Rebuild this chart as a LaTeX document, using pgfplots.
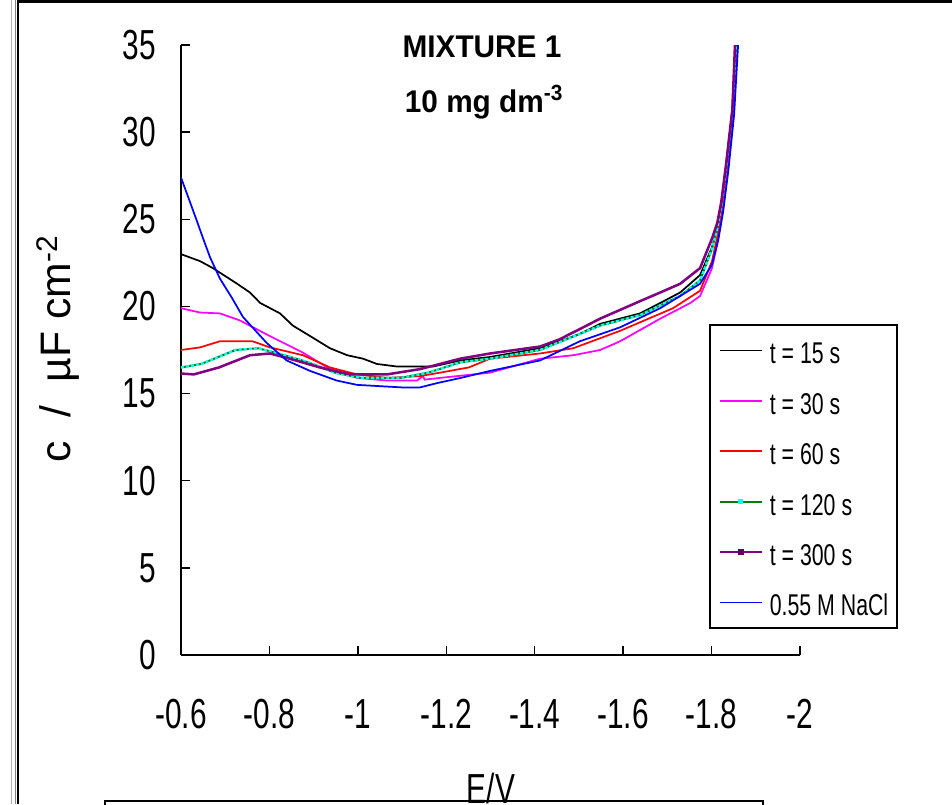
\documentclass[border=0pt]{standalone}
\usepackage{fontspec}
\setmainfont{Liberation Sans}
\newfontfamily\narrowfont{Liberation Sans}[FakeStretch=0.71]
\newfontfamily\titlefont{Liberation Sans}[FakeStretch=0.95]
\usepackage{pgfplots}
\pgfplotsset{compat=1.18}
\definecolor{cmag}{RGB}{255,0,255}
\definecolor{cred}{RGB}{255,0,0}
\definecolor{cgreen}{RGB}{0,128,0}
\definecolor{ccyan}{RGB}{0,255,255}
\definecolor{cpurple}{RGB}{128,0,128}
\definecolor{cblue}{RGB}{0,0,255}

\pgfplotstableread{
x y
-0.600 23.0
-0.643 22.6
-0.672 22.2
-0.727 21.3
-0.756 20.8
-0.779 20.2
-0.824 19.6
-0.853 18.9
-0.892 18.3
-0.937 17.6
-0.976 17.2
-1.012 17.0
-1.043 16.7
-1.089 16.55
-1.170 16.55
-1.231 16.9
-1.299 17.1
-1.412 17.6
-1.500 18.4
-1.548 19.0
-1.638 19.6
-1.684 20.2
-1.729 20.8
-1.774 21.8
-1.801 23.4
-1.813 24.5
-1.822 25.9
-1.833 28.1
-1.847 31.2
-1.855 35.0
}\tabA

\pgfplotstableread{
x y
-0.600 19.9
-0.643 19.65
-0.688 19.6
-0.733 19.2
-0.801 18.3
-0.876 17.35
-0.937 16.4
-0.998 15.9
-1.066 15.75
-1.134 15.75
-1.147 16.0
-1.151 15.8
-1.186 15.9
-1.299 16.2
-1.412 17.0
-1.487 17.2
-1.548 17.5
-1.593 18.0
-1.684 19.3
-1.752 20.2
-1.774 20.6
-1.801 22.2
-1.813 23.6
-1.822 25.0
-1.833 27.4
-1.847 30.6
-1.858 35.0
}\tabB

\pgfplotstableread{
x y
-0.600 17.5
-0.643 17.65
-0.688 18.0
-0.762 18.0
-0.801 17.65
-0.876 17.2
-0.937 16.5
-0.998 16.1
-1.066 15.9
-1.140 16.0
-1.186 16.2
-1.251 16.5
-1.299 17.0
-1.412 17.3
-1.487 17.6
-1.593 18.6
-1.713 19.9
-1.774 20.9
-1.801 22.6
-1.813 24.0
-1.822 25.4
-1.833 27.6
-1.847 30.8
-1.857 35.0
}\tabC

\pgfplotstableread{
x y
-0.600 16.5
-0.646 16.7
-0.723 17.5
-0.775 17.6
-0.820 17.3
-0.887 16.8
-0.948 16.2
-1.007 15.9
-1.098 15.9
-1.159 16.2
-1.233 16.8
-1.299 17.0
-1.412 17.5
-1.548 18.9
-1.638 19.5
-1.729 20.6
-1.774 21.5
-1.801 23.3
-1.813 24.5
-1.822 25.8
-1.833 28.0
-1.847 31.2
-1.855 35.0
}\tabD

\pgfplotstableread{
x y
-0.600 16.15
-0.629 16.1
-0.686 16.5
-0.756 17.2
-0.801 17.3
-0.846 17.0
-0.914 16.5
-0.982 16.1
-1.066 16.1
-1.140 16.4
-1.186 16.7
-1.231 17.0
-1.299 17.3
-1.412 17.7
-1.455 18.1
-1.502 18.7
-1.548 19.3
-1.593 19.8
-1.638 20.3
-1.684 20.8
-1.729 21.3
-1.774 22.2
-1.801 23.9
-1.813 24.8
-1.822 26.0
-1.833 28.2
-1.847 31.3
-1.853 35.0
}\tabE

\pgfplotstableread{
x y
-0.600 27.4
-0.613 26.5
-0.636 24.9
-0.650 23.9
-0.666 22.8
-0.688 21.6
-0.715 20.5
-0.740 19.4
-0.794 17.9
-0.839 16.9
-0.892 16.3
-0.952 15.75
-0.998 15.5
-1.102 15.35
-1.140 15.35
-1.179 15.6
-1.233 15.9
-1.299 16.3
-1.412 16.9
-1.502 18.0
-1.593 18.8
-1.684 19.9
-1.774 21.3
-1.801 22.4
-1.815 23.8
-1.826 25.4
-1.838 27.8
-1.851 31.0
-1.860 35.0
}\tabF

\begin{document}
\begin{tikzpicture}
\useasboundingbox (0pt,0pt) rectangle (714pt,603pt);
\fill[white] (0pt,0pt) rectangle (714pt,603pt);
\begin{axis}[
  at={(135.75pt,111.75pt)}, anchor=south west,
  scale only axis, width=464.25pt, height=457.5pt,
  xmin=-2, xmax=-0.6, x dir=reverse, ymin=0, ymax=35,
  axis x line*=bottom, axis y line*=left,
  axis line style={line width=1.3pt, black},
  xtick={-0.6,-0.8,-1,-1.2,-1.4,-1.6,-1.8,-2},
  ytick={0,5,10,15,20,25,30,35},
  tick align=inside, major tick length=7pt,
  tick style={line width=1pt, black},
  ticklabel style={font=\narrowfont\fontsize{31.5}{36}\selectfont, inner sep=0pt},
  /pgf/number format/assume math mode=true,
  xticklabel style={anchor=north, yshift=-33pt},
  yticklabel style={anchor=east, xshift=-18.75pt},
  legend style={at={(0.853,0.5426)}, anchor=north west, draw=black,
    line width=1.4pt, fill=white,
    font=\narrowfont\fontsize{22.5}{27}\selectfont,
    inner xsep=6.75pt, inner ysep=6.75pt, row sep=13.05pt,
    nodes={inner sep=0pt, text height=22.5pt, text depth=2.25pt}},
  legend cell align=left,
  legend image code/.code={\draw[#1] (0pt,0pt) -- (31.5pt,0pt); \path (36.5pt,0pt);},
]
\addplot[black, line width=1.3pt] table[x=x,y=y] {\tabA};
\addlegendentry{t = 15 s}
\addplot[cmag, line width=1.3pt] table[x=x,y=y] {\tabB};
\addlegendentry{t = 30 s}
\addplot[cred, line width=1.3pt] table[x=x,y=y] {\tabC};
\addlegendentry{t = 60 s}
\addplot[cgreen, line width=1.5pt,
  legend image code/.code={\draw[cgreen, line width=1.5pt] (0pt,0pt) -- (31.5pt,0pt);
    \fill[ccyan] (14.6pt,-1.1pt) rectangle (16.9pt,1.1pt); \path (36.5pt,0pt);}] table[x=x,y=y] {\tabD};
\addlegendentry{t = 120 s}
\addplot[ccyan, line width=1.8pt, dash pattern=on 2.2pt off 1.6pt, forget plot] table[x=x,y=y] {\tabD};
\addplot[cpurple, line width=1.9pt,
  legend image code/.code={\draw[cpurple, line width=1.5pt] (0pt,0pt) -- (31.5pt,0pt);
    \fill[cpurple!70!black] (14.6pt,-1.1pt) rectangle (16.9pt,1.1pt); \path (36.5pt,0pt);}] table[x=x,y=y] {\tabE};
\addlegendentry{t = 300 s}
\addplot[cblue, line width=1.3pt] table[x=x,y=y] {\tabF};
\addlegendentry{0.55 M NaCl}
\end{axis}
\begin{scope}[shift={(0pt,603pt)}, x=0.75pt, y=-0.75pt]
% titles
\node[font=\titlefont\bfseries\fontsize{23.5}{27}\selectfont, anchor=base, inner sep=0pt] at (482,58) {MIXTURE 1};
\node[font=\titlefont\bfseries\fontsize{23.5}{27}\selectfont, anchor=base, inner sep=0pt] at (484,113) {10 mg dm\textsuperscript{-3}};
% y label
\node[font=\fontsize{32}{36}\selectfont, rotate=90, inner sep=0pt] at (58,349) {c \ / \ µF cm\textsuperscript{-2}};
% x label
\node[font=\narrowfont\fontsize{31.5}{36}\selectfont, anchor=north, inner sep=0pt] at (491,773) {E/V};
% frame
\draw[gray!60, line width=0.75pt] (11.5,0) -- (11.5,804);
\draw[gray, line width=0.9pt] (15.3,0) -- (15.3,804);
\draw[black, line width=1.5pt] (17.7,0) -- (17.7,804);
\draw[black, line width=2.4pt] (17,1.6) -- (952,1.6);
\draw[black, line width=1.1pt] (105,812) -- (105,801) -- (763,801) -- (763,812);
\end{scope}
\end{tikzpicture}
\end{document}
